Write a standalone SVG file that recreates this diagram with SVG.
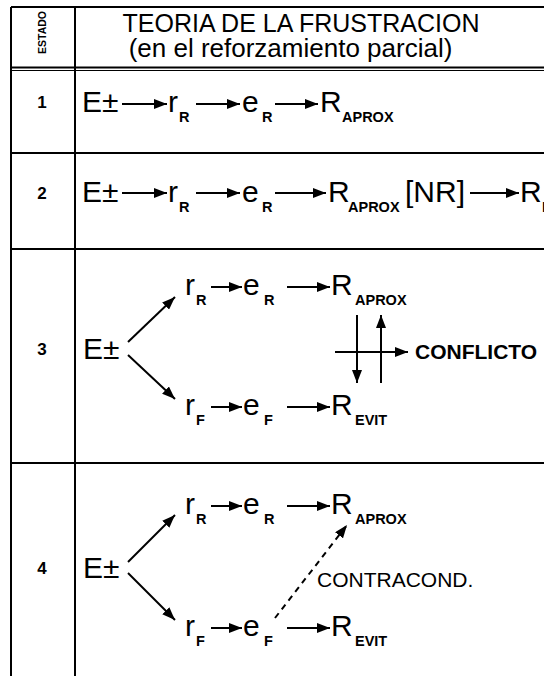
<svg xmlns="http://www.w3.org/2000/svg" width="544" height="676" viewBox="0 0 544 676">
<defs>
<marker id="ah" markerUnits="userSpaceOnUse" markerWidth="14" markerHeight="10" refX="13" refY="5" orient="auto"><path d="M0,0 L13,5 L0,10 z" fill="#000"/></marker>
</defs>
<style>
.t{font-family:"Liberation Sans",Arial,sans-serif;fill:#000}
.m{font-size:30px}
.s{font-size:14.5px;font-weight:bold}
.n{font-size:17px;font-weight:bold;text-anchor:middle}
.g{stroke:#000;stroke-width:2;fill:none}
.a{stroke:#000;stroke-width:2;fill:none;marker-end:url(#ah)}
.d{stroke-dasharray:6 5}
</style>
<rect width="544" height="676" fill="#fff"/>
<g id="grid" class="g">
<line x1="11" y1="7" x2="544" y2="7"/>
<line x1="11" y1="7" x2="11" y2="676"/>
<line x1="75" y1="7" x2="75" y2="676"/>
<line x1="11" y1="67.5" x2="544" y2="67.5" stroke-width="1.8"/>
<line x1="11" y1="70.5" x2="544" y2="70.5" stroke-width="1.2"/>
<line x1="11" y1="153" x2="544" y2="153"/>
<line x1="11" y1="249" x2="544" y2="249"/>
<line x1="11" y1="463" x2="544" y2="463"/>
</g>
<g id="header" class="t">
<text transform="translate(46,32.5) rotate(-90)" font-size="10.5" font-weight="bold" text-anchor="middle">ESTADO</text>
<text x="301" y="32" font-size="25" text-anchor="middle">TEORIA DE LA FRUSTRACION</text>
<text x="290.5" y="57" font-size="26" text-anchor="middle">(en el reforzamiento parcial)</text>
</g>
<g id="rownums" class="t n">
<text x="42" y="108">1</text>
<text x="42" y="199">2</text>
<text x="42" y="355">3</text>
<text x="42" y="574">4</text>
</g>
<g id="connectors">
<line class="a" x1="122" y1="104" x2="167" y2="104"/>
<line class="a" x1="196" y1="104" x2="240" y2="104"/>
<line class="a" x1="275" y1="104" x2="318" y2="104"/>
<line class="a" x1="122" y1="193" x2="167" y2="193"/>
<line class="a" x1="196" y1="193" x2="240" y2="193"/>
<line class="a" x1="275" y1="193" x2="326" y2="193"/>
<line class="a" x1="470" y1="193" x2="519" y2="193"/>
<line class="a" x1="128" y1="342" x2="175" y2="297"/>
<line class="a" x1="128" y1="355" x2="175" y2="399"/>
<line class="a" x1="211" y1="287" x2="242" y2="287"/>
<line class="a" x1="287" y1="287" x2="330" y2="287"/>
<line class="a" x1="211" y1="407" x2="242" y2="407"/>
<line class="a" x1="287" y1="407" x2="330" y2="407"/>
<line class="a" x1="357" y1="315" x2="357" y2="383"/>
<line class="a" x1="381" y1="383" x2="381" y2="315"/>
<line class="a" x1="335" y1="352" x2="408" y2="352"/>
<line class="a" x1="128" y1="562" x2="175" y2="515"/>
<line class="a" x1="128" y1="573" x2="175" y2="620"/>
<line class="a" x1="211" y1="506" x2="242" y2="506"/>
<line class="a" x1="287" y1="506" x2="330" y2="506"/>
<line class="a" x1="211" y1="628" x2="242" y2="628"/>
<line class="a" x1="287" y1="628" x2="330" y2="628"/>
<line class="a d" x1="275" y1="618" x2="347" y2="525"/>
</g>
<g id="row1" class="t">
<g id="r1-E"><text class="m" x="82" y="112">E±</text></g>
<g id="r1-rR"><text class="m" x="168" y="112">r</text><text class="s" x="179" y="122">R</text></g>
<g id="r1-eR"><text class="m" x="242" y="112">e</text><text class="s" x="262" y="122">R</text></g>
<g id="r1-RA"><text class="m" x="320" y="112">R</text><text class="s" x="342" y="122">APROX</text></g>
</g>
<g id="row2" class="t">
<g id="r2-E"><text class="m" x="82" y="202">E±</text></g>
<g id="r2-rR"><text class="m" x="168" y="202">r</text><text class="s" x="179" y="212">R</text></g>
<g id="r2-eR"><text class="m" x="242" y="202">e</text><text class="s" x="262" y="212">R</text></g>
<g id="r2-RA"><text class="m" x="328" y="202">R</text><text class="s" x="348" y="212">APROX</text></g>
<g id="r2-NR"><text class="m" x="405" y="202">[NR]</text></g>
<g id="r2-RF"><text class="m" x="520" y="202">R</text><text class="s" x="542" y="212">F</text></g>
</g>
<g id="row3" class="t">
<g id="r3-E"><text class="m" x="83" y="359">E±</text></g>
<g id="r3-rR"><text class="m" x="185" y="295">r</text><text class="s" x="196" y="305">R</text></g>
<g id="r3-eR"><text class="m" x="243" y="295">e</text><text class="s" x="264" y="305">R</text></g>
<g id="r3-RA"><text class="m" x="331" y="295">R</text><text class="s" x="355" y="305">APROX</text></g>
<g id="r3-rF"><text class="m" x="185" y="415">r</text><text class="s" x="196" y="425">F</text></g>
<g id="r3-eF"><text class="m" x="243" y="415">e</text><text class="s" x="264" y="425">F</text></g>
<g id="r3-RE"><text class="m" x="331" y="415">R</text><text class="s" x="355" y="425">EVIT</text></g>
<g id="r3-conf"><text x="415" y="359" font-size="21" font-weight="bold">CONFLICTO</text></g>
</g>
<g id="row4" class="t">
<g id="r4-E"><text class="m" x="83" y="578">E±</text></g>
<g id="r4-rR"><text class="m" x="185" y="514">r</text><text class="s" x="196" y="524">R</text></g>
<g id="r4-eR"><text class="m" x="243" y="514">e</text><text class="s" x="264" y="524">R</text></g>
<g id="r4-RA"><text class="m" x="331" y="514">R</text><text class="s" x="355" y="524">APROX</text></g>
<g id="r4-rF"><text class="m" x="185" y="636">r</text><text class="s" x="196" y="646">F</text></g>
<g id="r4-eF"><text class="m" x="243" y="636">e</text><text class="s" x="264" y="646">F</text></g>
<g id="r4-RE"><text class="m" x="331" y="636">R</text><text class="s" x="355" y="646">EVIT</text></g>
<g id="r4-cc"><text x="317" y="587" font-size="21">CONTRACOND.</text></g>
</g>
</svg>
